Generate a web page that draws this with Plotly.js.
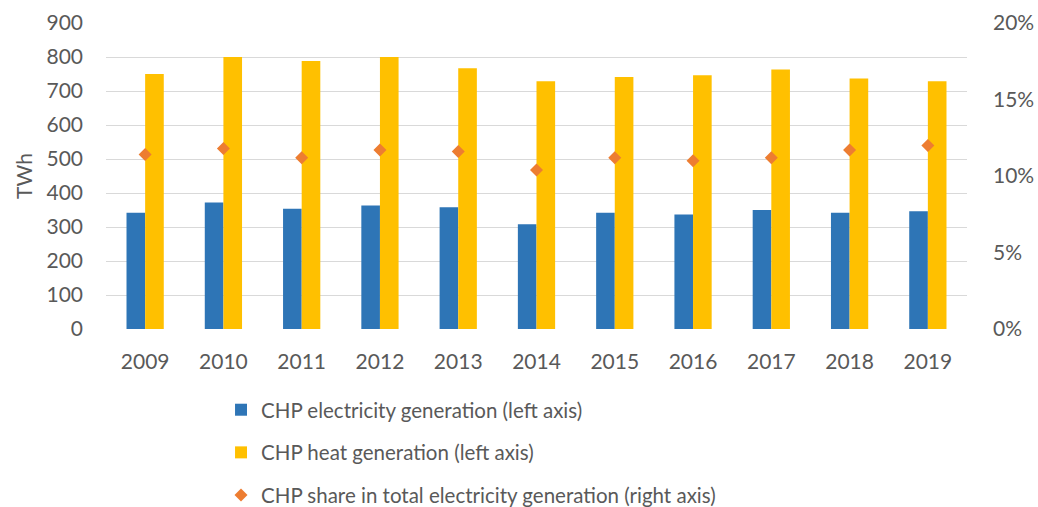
<!DOCTYPE html>
<html>
<head>
<meta charset="utf-8">
<script src="https://cdn.plot.ly/plotly-3.0.1.min.js"></script>
<style>html,body{margin:0;padding:0;background:#fff}#chart{width:1038px;height:507px}</style>
</head>
<body>
<div id="chart"></div>
<script>
const years = ['2009','2010','2011','2012','2013','2014','2015','2016','2017','2018','2019'];
const electricity = [342, 372, 354, 363, 358, 308, 342, 337, 350, 342, 346];
const heat = [750, 800, 788, 800, 767, 729, 741, 746, 763, 737, 729];
const share = [0.114, 0.118, 0.112, 0.117, 0.116, 0.104, 0.112, 0.110, 0.112, 0.117, 0.120];

const tickFont = {family: 'Lato, "Open Sans", sans-serif', size: 21, color: '#595959'};
const legendFont = {family: 'Lato, "Open Sans", sans-serif', size: 20.5, color: '#595959'};

const traces = [
  {type: 'bar', name: 'CHP electricity generation (left axis)', x: years, y: electricity,
   marker: {color: '#2E75B6'}, offsetgroup: 'a', legendgroup: 'g1'},
  {type: 'bar', name: 'CHP heat generation (left axis)', x: years, y: heat,
   marker: {color: '#FFC000'}, offsetgroup: 'b', legendgroup: 'g2'},
  {type: 'scatter', mode: 'markers', name: 'CHP share in total electricity generation (right axis)',
   x: years, y: share, yaxis: 'y2', legendgroup: 'g3',
   marker: {symbol: 'diamond', color: '#ED7D31', size: 10}}
];

const layout = {
  width: 1038, height: 507,
  margin: {l: 106, r: 71, t: 23, b: 178, autoexpand: false},
  paper_bgcolor: '#fff', plot_bgcolor: '#fff',
  font: tickFont,
  barmode: 'group', bargap: 0.524, bargroupgap: 0,
  showlegend: true,
  legend: {orientation: 'v', x: 0.1336, xanchor: 'left', y: -0.199, yanchor: 'top',
           font: legendFont, tracegroupgap: 13, itemwidth: 30, traceorder: 'grouped'},
  xaxis: {type: 'category', range: [-0.5, 10.5], autorange: false,
          showgrid: false, showline: false, zeroline: false,
          ticks: '', tickfont: tickFont, ticklen: 0, automargin: false, ticklabelstandoff: 18},
  yaxis: {range: [0, 900], dtick: 100, showgrid: true, gridcolor: '#D9D9D9', gridwidth: 1,
          zeroline: false, showline: false, ticks: '', tickfont: tickFont, automargin: false,
          ticklabelstandoff: 22,
          title: {text: 'TWh', font: tickFont, standoff: 8}},
  yaxis2: {range: [0, 0.2], dtick: 0.05, tickformat: '.0%', overlaying: 'y', side: 'right',
           showgrid: false, zeroline: false, showline: false, ticks: '', tickfont: tickFont,
           automargin: false, ticklabelstandoff: 25}
};

Plotly.newPlot('chart', traces, layout, {displayModeBar: false, staticPlot: true});
</script>
</body>
</html>
